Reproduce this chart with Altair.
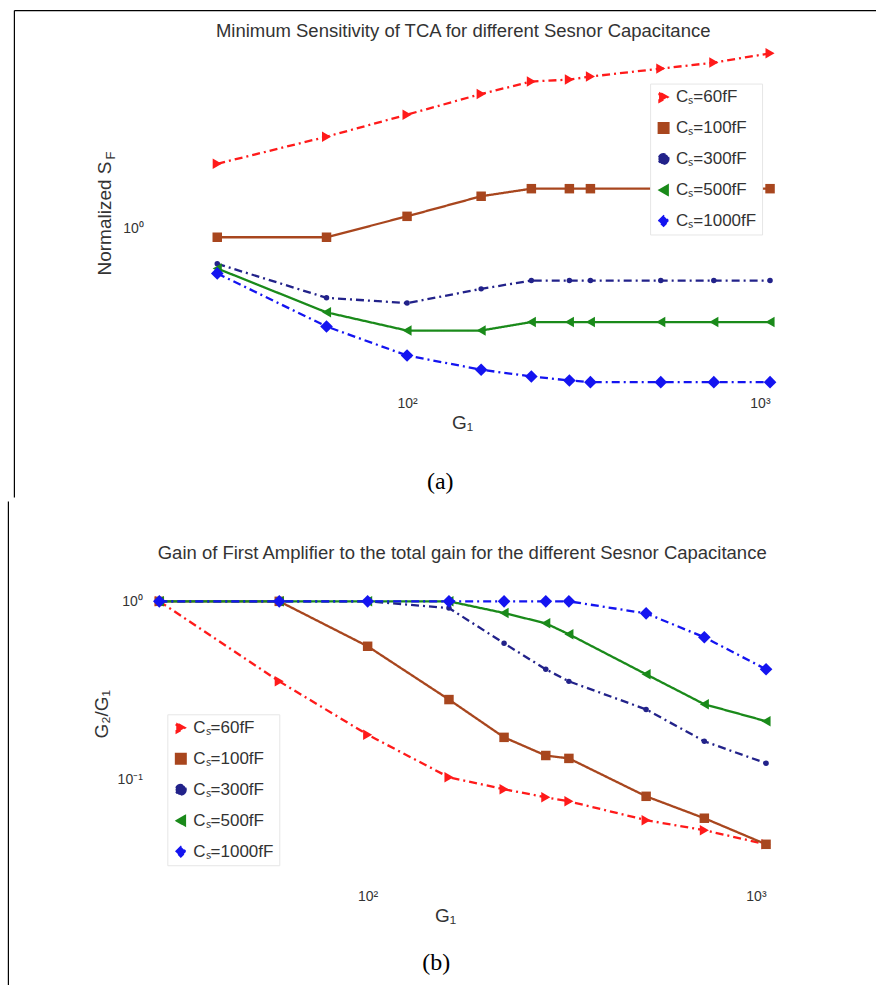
import altair as alt
import pandas as pd

# ---- data ----
g1 = [30, 60, 100, 160, 220, 280, 320, 500, 700, 1000]
series = ["Cₛ=60fF", "Cₛ=100fF", "Cₛ=300fF", "Cₛ=500fF", "Cₛ=1000fF"]

# (a) Normalized S_F
sf_60 = [2.30, 3.26, 4.33, 5.65, 6.63, 6.80, 7.07, 7.83, 8.46, 9.53]
sf_100 = [0.894, 0.894, 1.17, 1.515, 1.67, 1.67, 1.67, 1.67, 1.67, 1.67]
sf_300 = [0.635, 0.41, 0.383, 0.46, 0.512, 0.512, 0.512, 0.512, 0.512, 0.512]
sf_500 = [0.598, 0.34, 0.269, 0.269, 0.30, 0.30, 0.30, 0.30, 0.30, 0.30]
sf_1000 = [0.561, 0.2835, 0.195, 0.1625, 0.149, 0.1415, 0.1385, 0.1385, 0.1385, 0.1385]

# (b) G2/G1
r_60 = [1.0, 0.355, 0.178, 0.1026, 0.0879, 0.0792, 0.0752, 0.0589, 0.0517, 0.0431]
r_100 = [1.0, 1.0, 0.559, 0.2805, 0.172, 0.136, 0.131, 0.0802, 0.0604, 0.0431]
r_300 = [1.0, 1.0, 1.0, 0.917, 0.581, 0.415, 0.355, 0.247, 0.1635, 0.123]
r_500 = [1.0, 1.0, 1.0, 1.0, 0.86, 0.752, 0.653, 0.389, 0.264, 0.212]
r_1000 = [1.0, 1.0, 1.0, 1.0, 1.0, 1.0, 1.0, 0.856, 0.628, 0.415]

title_a = "Minimum Sensitivity of TCA for different Sesnor Capacitance"
title_b = "Gain of First Amplifier to the total gain for the different Sesnor Capacitance"

# ---- styles ----
colors = ["#ff1a1a", "#a8461e", "#22228a", "#1a8a1a", "#1414f0"]
shapes = ["triangle-right", "square", "circle", "triangle-left", "diamond"]
dashes = [[8, 4, 2, 4], [1, 0], [8, 4, 2, 4], [1, 0], [8, 4, 2, 4]]
sizes = [110, 90, 30, 110, 160]

FONT = "Liberation Sans"
TXT = "#333333"


def long_df(cols):
    rows = []
    for s, sz, vals in zip(series, sizes, cols):
        for x, v in zip(g1, vals):
            rows.append({"g1": x, "v": v, "label": s, "sz": sz})
    return pd.DataFrame(rows)


def one(text):
    return pd.DataFrame({"t": [text]})


def frame_rule(x, y, x2=None, y2=None):
    enc = {"x": alt.value(x), "y": alt.value(y)}
    if x2 is not None:
        enc["x2"] = alt.value(x2)
    if y2 is not None:
        enc["y2"] = alt.value(y2)
    return alt.Chart(one("")).mark_rule(color="black", strokeWidth=1.2).encode(**enc)


def text_at(text, x, y, size, font=FONT, color=TXT, angle=0, align="center"):
    return alt.Chart(one(text)).mark_text(
        font=font, fontSize=size, color=color, angle=angle, align=align,
        baseline="middle"
    ).encode(text="t:N", x=alt.value(x), y=alt.value(y))


def panel(df, width, height, xdom, ydom, yvals, ylabexpr, xtitle_x,
          leg_x, leg_y, ylab_pad):
    xenc = alt.X("g1:Q", scale=alt.Scale(type="log", domain=xdom),
                 axis=alt.Axis(values=[100, 1000],
                               labelExpr="datum.value == 100 ? '10²' : '10³'",
                               title="G₁", grid=False, domain=False, ticks=False,
                               labelPadding=8, titlePadding=3, titleX=xtitle_x,
                               labelFontSize=14, titleFontSize=19,
                               titleFontWeight="normal"))
    yenc = alt.Y("v:Q", scale=alt.Scale(type="log", domain=ydom),
                 axis=alt.Axis(values=yvals, labelExpr=ylabexpr, title=None,
                               grid=False, domain=False, ticks=False,
                               labelPadding=ylab_pad, labelFontSize=14))
    legend = alt.Legend(orient="none", legendX=leg_x, legendY=leg_y, title=None,
                        labelFont=FONT, labelFontSize=17, labelColor=TXT,
                        symbolSize=110, rowPadding=13, padding=5,
                        fillColor="white", strokeColor="#e6e6e6")
    cscale = alt.Scale(domain=series, range=colors)
    base = alt.Chart(df)
    lines = base.mark_line(strokeWidth=2.3).encode(
        x=xenc, y=yenc,
        color=alt.Color("label:N", scale=cscale, legend=legend, sort=series),
        strokeDash=alt.StrokeDash("label:N", scale=alt.Scale(domain=series, range=dashes), legend=None),
        detail="label:N",
    )
    pts = base.mark_point(filled=True, opacity=1).encode(
        x=xenc, y=yenc,
        color=alt.Color("label:N", scale=cscale, legend=legend, sort=series),
        shape=alt.Shape("label:N", scale=alt.Scale(domain=series, range=shapes), legend=legend, sort=series),
        size=alt.Size("sz:Q", scale=None, legend=None),
    )
    return alt.layer(lines, pts).properties(width=width, height=height)


df_a = long_df([sf_60, sf_100, sf_300, sf_500, sf_1000])
df_b = long_df([r_60, r_100, r_300, r_500, r_1000])

# panel (a): plot area origin at (153, 45) in the page
top = panel(df_a, 617, 343, [20, 1000], [0.1277, 10.53], [1], "'10⁰'",
            309, 497, 38, 10)
top = alt.layer(
    top,
    text_at(title_a, 310, -15, 18.5),
    text_at("Normalized S", -48, 116, 19, angle=270, align="right"),
    text_at("F", -42, 114, 13, angle=270, align="left"),
    text_at("(a)", 287, 437, 24, font="Liberation Serif", color="black"),
    frame_rule(-139, -35, x2=723),          # top border
    frame_rule(-139, -35, y2=452),          # left border of (a)
)

# panel (b): plot area origin at (153, 570) in the page
bottom = panel(df_b, 613, 310, [28.98, 1000], [0.02673, 1.474], [0.1, 1],
               "datum.value == 1 ? '10⁰' : '10⁻¹'",
               292, 14, 143, 11)
bottom = alt.layer(
    bottom,
    text_at(title_b, 309, -18, 18.5),
    text_at("G₂/G₁", -51, 143, 19, angle=270),
    text_at("(b)", 283, 392, 24, font="Liberation Serif", color="black"),
    frame_rule(-145, -70, y2=414),          # left border of (b)
)

chart = alt.vconcat(top, bottom, spacing=2).resolve_scale(
    color="independent", shape="independent",
    strokeDash="independent", x="independent", y="independent"
).resolve_legend(color="independent", shape="independent").properties(
    padding={"left": 7.4, "top": 9.4, "right": 0, "bottom": 0},
    background="white",
).configure_view(stroke=None).configure_axis(
    labelFont=FONT, titleFont=FONT, labelColor=TXT, titleColor=TXT
)

chart.save("out.html", embed_options={"renderer": "svg", "actions": False})
